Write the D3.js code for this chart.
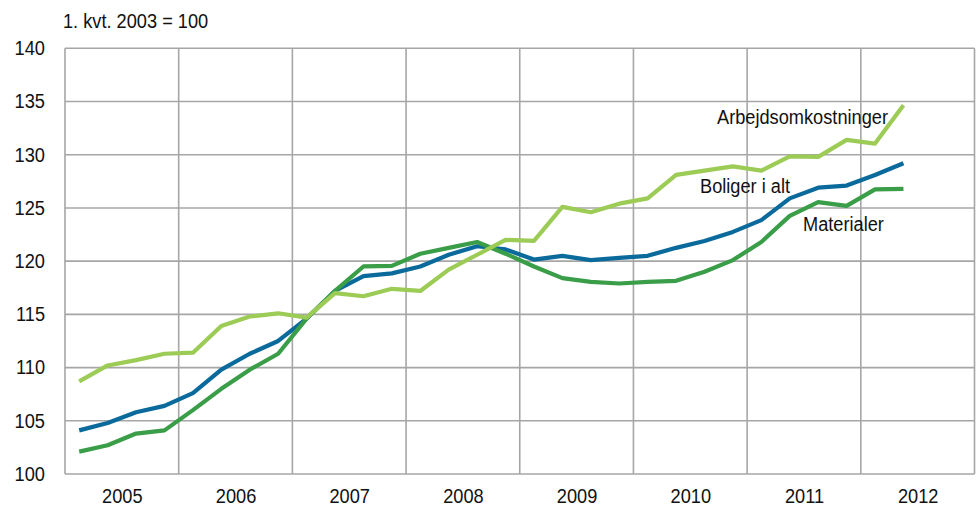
<!DOCTYPE html>
<html>
<head>
<meta charset="utf-8">
<script src="https://cdn.jsdelivr.net/npm/d3@7"></script>
<style>
  html, body { margin: 0; padding: 0; background: #fff; }
  svg text { font-family: "Liberation Sans", Arial, sans-serif; font-size: 20px; fill: #111; }
</style>
</head>
<body>
<svg id="chart" width="976" height="507"></svg>
<script>
// ---- data ----
const years = [2005, 2006, 2007, 2008, 2009, 2010, 2011, 2012];
const quarters = [
  "2005K1","2005K2","2005K3","2005K4",
  "2006K1","2006K2","2006K3","2006K4",
  "2007K1","2007K2","2007K3","2007K4",
  "2008K1","2008K2","2008K3","2008K4",
  "2009K1","2009K2","2009K3","2009K4",
  "2010K1","2010K2","2010K3","2010K4",
  "2011K1","2011K2","2011K3","2011K4",
  "2012K1","2012K2"
];
const arbejdsomkostninger = [
  108.7, 110.2, 110.7, 111.3,
  111.4, 113.9, 114.8, 115.1,
  114.7, 117.0, 116.7, 117.4,
  117.2, 119.2, 120.6, 122.0,
  121.9, 125.1, 124.6, 125.4,
  125.9, 128.1, 128.5, 128.9,
  128.5, 129.85, 129.8, 131.4,
  131.05, 134.65
];
const boligerIAlt = [
  104.1, 104.8, 105.8, 106.4,
  107.6, 109.8, 111.3, 112.5,
  114.6, 117.2, 118.6, 118.85,
  119.5, 120.6, 121.4, 121.1,
  120.15, 120.5, 120.1, 120.3,
  120.5, 121.25, 121.9, 122.75,
  123.85, 125.9, 126.9, 127.1,
  128.1, 129.2
];
const materialer = [
  102.1, 102.7, 103.8, 104.1,
  106.0, 108.0, 109.8, 111.3,
  114.6, 117.2, 119.5, 119.55,
  120.7, 121.25, 121.8, 120.7,
  119.5, 118.4, 118.05, 117.9,
  118.05, 118.15, 119.0, 120.1,
  121.8, 124.25, 125.55, 125.2,
  126.75, 126.8
];
const yTicks = [100, 105, 110, 115, 120, 125, 130, 135, 140];
const title = "1. kvt. 2003 = 100";

// ---- layout ----
const svg = d3.select("#chart");
const pLeft = 65, pRight = 974.5, pTop = 48.3, pBottom = 474;

const x = d3.scaleLinear().domain([2005, 2013]).range([pLeft, pRight]);
const y = d3.scaleLinear().domain([100, 140]).range([pBottom, pTop]);

const qTime = q => +q.slice(0, 4) + (+q.slice(5) - 0.5) / 4;

// gridlines
const grid = svg.append("g").attr("stroke", "#a6a6a6").attr("stroke-width", 1.6);
grid.selectAll("line.h").data(yTicks).join("line").attr("class", "h")
  .attr("x1", pLeft).attr("x2", pRight)
  .attr("y1", d => y(d)).attr("y2", d => y(d));
grid.selectAll("line.v").data(years.concat([2013])).join("line").attr("class", "v")
  .attr("y1", pTop).attr("y2", pBottom)
  .attr("x1", d => x(d)).attr("x2", d => x(d));

// y axis labels
const yAxis = svg.append("g").attr("transform", `translate(${pLeft},0)`)
  .call(d3.axisLeft(y).tickValues(yTicks).tickSize(0).tickPadding(20).tickFormat(d3.format("d")));
yAxis.select(".domain").remove();
yAxis.attr("font-family", null).attr("font-size", null);
yAxis.selectAll("text").attr("fill", "#111");

// x axis labels
const xAxis = svg.append("g").attr("transform", `translate(0,${pBottom})`)
  .call(d3.axisBottom(x).tickValues(years.map(d => d + 0.5)).tickSize(0).tickPadding(14.5).tickFormat(d => String(Math.floor(d))));
xAxis.select(".domain").remove();
xAxis.attr("font-family", null).attr("font-size", null);
xAxis.selectAll("text").attr("fill", "#111");

// title
svg.append("text").attr("x", 63).attr("y", 28).text(title);

// lines
const series = [
  { name: "Boliger i alt", values: boligerIAlt, color: "#0a6a9b", lx: 700, ly: 193 },
  { name: "Materialer", values: materialer, color: "#3a9d48", lx: 803, ly: 231 },
  { name: "Arbejdsomkostninger", values: arbejdsomkostninger, color: "#9ccb56", lx: 717, ly: 124 }
];
const line = d3.line().x((d, i) => x(qTime(quarters[i]))).y(d => y(d));
series.forEach(s => {
  svg.append("path").datum(s.values)
    .attr("fill", "none").attr("stroke", s.color).attr("stroke-width", 4.2)
    .attr("stroke-linejoin", "round").attr("stroke-linecap", "butt")
    .attr("d", line);
});
series.forEach(s => {
  svg.append("text").attr("x", s.lx).attr("y", s.ly).text(s.name);
});

// condense all text horizontally to mimic the narrow typeface of the original
svg.selectAll("text").each(function () {
  const len = this.getComputedTextLength();
  d3.select(this).attr("textLength", (len * 0.91).toFixed(1)).attr("lengthAdjust", "spacingAndGlyphs");
});
</script>
</body>
</html>
